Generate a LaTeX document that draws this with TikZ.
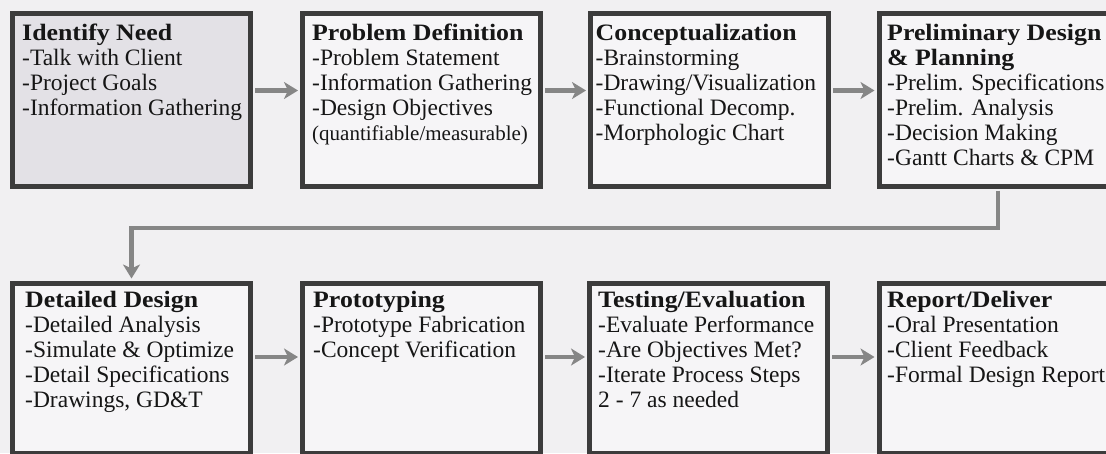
\documentclass[tikz,border=0pt]{standalone}
\usepackage{fontspec}
\setmainfont{Liberation Serif}
\newfontfamily\titlefont[FakeStretch=1.1]{Liberation Serif}
\usetikzlibrary{arrows.meta}
\definecolor{bg}{HTML}{F1F0F2}
\definecolor{boxline}{HTML}{3C3C3C}
\definecolor{boxfill}{HTML}{F6F5F7}
\definecolor{firstfill}{HTML}{E3E1E6}
\definecolor{arrowgray}{HTML}{868686}
\definecolor{ink}{HTML}{161616}
\tikzset{
  stepbox/.style={draw=boxline, line width=5pt, fill=boxfill, rectangle, inner sep=0pt, anchor=north west},
  toprow/.style={minimum width=238pt, minimum height=173pt},
  botrow/.style={minimum width=238pt, minimum height=170pt},
  boxtext/.style={anchor=north west, inner sep=0pt, align=left, text=ink,
    font=\fontsize{23.5}{25}\selectfont},
  flow/.style={draw=arrowgray, line width=4.5pt,
    -{Stealth[length=14pt,width=17pt,inset=4pt]}, shorten >=2pt, shorten <=2pt},
}
\newcommand{\ttl}[1]{{\titlefont\bfseries #1}}
\begin{document}
\begin{tikzpicture}[x=1pt,y=-1pt]
\fill[bg] (0,0) rectangle (1106,453);
\clip (0,0) rectangle (1106,453);
% top row boxes
\node[stepbox, toprow, fill=firstfill] (b1) at (10,10.5) {};
\node[stepbox, toprow] (b2) at (300,10.5) {};
\node[stepbox, toprow] (b3) at (588,10.5) {};
\node[stepbox, toprow] (b4) at (876.5,10.5) {};
% bottom row boxes
\node[stepbox, botrow] (b5) at (10,280.5) {};
\node[stepbox, botrow] (b6) at (300,280.5) {};
\node[stepbox, botrow] (b7) at (587,280.5) {};
\node[stepbox, botrow] (b8) at (876.5,280.5) {};
% texts
\node[boxtext] (t1) at ([shift={(12,13.5)}]b1.north west) {\ttl{Identify Need}\\-Talk with Client\\-Project Goals\\-Information Gathering};
\node[boxtext] (t2) at ([shift={(12,13.5)}]b2.north west) {\ttl{Problem Definition}\\-Problem Statement\\-Information Gathering\\-Design Objectives\\{\fontsize{21}{25}\selectfont (quantifiable/measurable)}};
\node[boxtext] (t3) at ([shift={(7.5,13.5)}]b3.north west) {\ttl{Conceptualization}\\-Brainstorming\\-Drawing/Visualization\\-Functional Decomp.\\-Morphologic Chart};
\node[boxtext] (t4) at ([shift={(10.5,13.5)}]b4.north west) {\ttl{Preliminary Design}\\\ttl{\& Planning}\\-Prelim. Specifications\\-Prelim. Analysis\\-Decision Making\\-Gantt Charts \& CPM};
\node[boxtext] (t5) at ([shift={(15,10.5)}]b5.north west) {\ttl{Detailed Design}\\-Detailed Analysis\\-Simulate \& Optimize\\-Detail Specifications\\-Drawings, GD\&T};
\node[boxtext] (t6) at ([shift={(13,10.5)}]b6.north west) {\ttl{Prototyping}\\-Prototype Fabrication\\-Concept Verification};
\node[boxtext] (t7) at ([shift={(11,10.5)}]b7.north west) {\ttl{Testing/Evaluation}\\-Evaluate Performance\\-Are Objectives Met?\\-Iterate Process Steps\\2 - 7 as needed};
\node[boxtext] (t8) at ([shift={(10.5,10.5)}]b8.north west) {\ttl{Report/Deliver}\\-Oral Presentation\\-Client Feedback\\-Formal Design Report};
% connectors
\draw[flow] ([yshift=9pt]b1.east) -- ([yshift=9pt]b2.west);
\draw[flow] ([yshift=9pt]b2.east) -- ([yshift=9pt]b3.west);
\draw[flow] ([yshift=9pt]b3.east) -- ([yshift=9pt]b4.west);
\coordinate (turn) at (560,228);
\draw[flow] (b4.south) |- (turn) -| (b5.north);
\draw[flow] ([yshift=11pt]b5.east) -- ([yshift=11pt]b6.west);
\draw[flow] ([yshift=11pt]b6.east) -- ([yshift=11pt]b7.west);
\draw[flow] ([yshift=11pt]b7.east) -- ([yshift=11pt]b8.west);
\end{tikzpicture}
\end{document}
